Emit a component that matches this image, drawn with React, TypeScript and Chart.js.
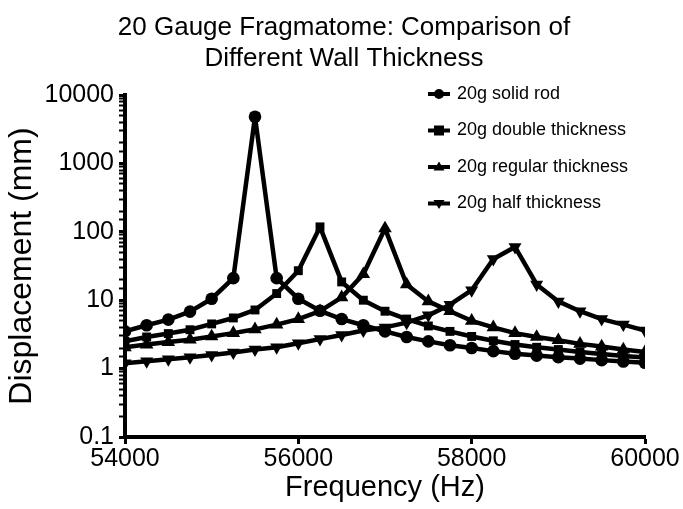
import React, { useEffect, useRef } from "react";
import { Chart, registerables } from "chart.js";

Chart.register(...registerables);

const frequencies = [
  54000, 54250, 54500, 54750, 55000, 55250, 55500, 55750, 56000, 56250, 56500, 56750,
  57000, 57250, 57500, 57750, 58000, 58250, 58500, 58750, 59000, 59250, 59500, 59750, 60000,
];

const solidRod = [
  3.5, 4.3, 5.2, 6.8, 10.5, 21, 4800, 21, 10.5, 7.0, 5.3, 4.3,
  3.5, 2.9, 2.5, 2.2, 2.0, 1.8, 1.65, 1.55, 1.47, 1.4, 1.33, 1.27, 1.22,
];

const doubleThickness = [
  2.5, 2.9, 3.25, 3.7, 4.5, 5.5, 7.2, 12.5, 27, 118, 18.5, 10,
  6.9, 5.3, 4.2, 3.5, 2.95, 2.55, 2.25, 2.05, 1.9, 1.75, 1.63, 1.53, 1.45,
];

const regularThickness = [
  2.05, 2.25, 2.45, 2.65, 2.95, 3.3, 3.75, 4.4, 5.3, 6.9, 11, 24,
  112, 17, 9.6, 6.9, 5.0, 4.0, 3.3, 2.9, 2.6, 2.3, 2.1, 1.9, 1.75,
];

const halfThickness = [
  1.2, 1.28, 1.37, 1.47, 1.58, 1.72, 1.9, 2.05, 2.35, 2.7, 3.1, 3.6,
  4.0, 4.7, 6.0, 8.6, 14, 40, 60, 17, 9.6, 6.9, 5.3, 4.4, 3.6,
];

const seriesNames = [
  "20g solid rod",
  "20g double thickness",
  "20g regular thickness",
  "20g half thickness",
];
const seriesValues = [solidRod, doubleThickness, regularThickness, halfThickness];
const seriesMarkers = ["circle", "rect", "triangle", "triangle"];
const seriesRotation = [0, 0, 0, 180];
const seriesRadius = [6.3, 6.3, 7.8, 7.5];

const xTicks = [54000, 56000, 58000, 60000];
const titleLines = ["20 Gauge Fragmatome: Comparison of", "Different Wall Thickness"];
const xTitle = "Frequency (Hz)";
const yTitle = "Displacement (mm)";

const FONT = "'Liberation Sans', Arial, Helvetica, sans-serif";

const W = 683;
const H = 509;
const AREA = { left: 125, right: 645, top: 95, bottom: 437 };

function isPow10(v: number) {
  const l = Math.log10(v);
  return Math.abs(l - Math.round(l)) < 1e-6;
}

function drawMarker(ctx: CanvasRenderingContext2D, style: string, x: number, y: number, r: number, rot: number) {
  ctx.beginPath();
  if (style === "circle") {
    ctx.arc(x, y, r, 0, Math.PI * 2);
  } else if (style === "rect") {
    ctx.rect(x - r, y - r, 2 * r, 2 * r);
  } else {
    const s = rot === 180 ? -1 : 1;
    ctx.moveTo(x, y - s * r * 1.1);
    ctx.lineTo(x + r * 1.1, y + s * r * 0.7);
    ctx.lineTo(x - r * 1.1, y + s * r * 0.7);
    ctx.closePath();
  }
  ctx.fill();
}

const titlePlugin = {
  id: "customTitle",
  afterDraw(chart: any) {
    const ctx = chart.ctx;
    ctx.save();
    ctx.fillStyle = "#000";
    ctx.font = `26px ${FONT}`;
    ctx.textAlign = "center";
    ctx.textBaseline = "middle";
    const cx = 344;
    ctx.fillText(titleLines[0], cx, 28);
    ctx.fillText(titleLines[1], cx, 59);
    ctx.restore();
  },
};

const legendPlugin = {
  id: "customLegend",
  afterDraw(chart: any) {
    const ctx = chart.ctx;
    ctx.save();
    const x0 = 428;
    const x1 = 450;
    const tx = 457;
    const y0 = 94;
    const dy = 36.5;
    chart.data.datasets.forEach((ds: any, i: number) => {
      const y = y0 + i * dy;
      ctx.strokeStyle = "#000";
      ctx.lineWidth = 4;
      ctx.beginPath();
      ctx.moveTo(x0, y);
      ctx.lineTo(x1, y);
      ctx.stroke();
      ctx.fillStyle = "#000";
      drawMarker(ctx, seriesMarkers[i], (x0 + x1) / 2, y, 5, seriesRotation[i]);
      ctx.font = `18px ${FONT}`;
      ctx.textAlign = "left";
      ctx.textBaseline = "middle";
      ctx.fillText(ds.label, tx, y);
    });
    ctx.restore();
  },
};

export default function App() {
  const canvasRef = useRef<HTMLCanvasElement | null>(null);

  useEffect(() => {
    document.body.style.margin = "0";
    const canvas = canvasRef.current;
    if (!canvas) return;
    const datasets = seriesNames.map((name, i) => ({
      label: name,
      data: frequencies.map((f, j) => ({ x: f, y: seriesValues[i][j] })),
      borderColor: "#000",
      backgroundColor: "#000",
      borderWidth: 4.5,
      borderJoinStyle: "round" as const,
      pointStyle: seriesMarkers[i],
      rotation: seriesRotation[i],
      pointRadius: seriesRadius[i],
      pointBorderWidth: 0,
      pointBackgroundColor: "#000",
      tension: 0,
      fill: false,
    }));
    const chart = new Chart(canvas, {
      type: "line",
      data: { datasets },
      plugins: [titlePlugin, legendPlugin],
      options: {
        animation: false,
        responsive: false,
        devicePixelRatio: 1,
        layout: {
          padding: { top: AREA.top, right: W - AREA.right, left: 0, bottom: 0 },
        },
        plugins: {
          legend: { display: false },
          title: { display: false },
          tooltip: { enabled: false },
        },
        scales: {
          x: {
            type: "linear",
            min: 54000,
            max: 60000,
            afterBuildTicks: (axis: any) => {
              axis.ticks = xTicks.map((v) => ({ value: v }));
            },
            afterFit: (axis: any) => {
              axis.height = H - AREA.bottom;
            },
            border: { display: true, color: "#000", width: 4 },
            grid: {
              display: true,
              drawOnChartArea: false,
              drawTicks: true,
              tickLength: 7,
              tickWidth: 3,
              tickColor: "#000",
            },
            ticks: {
              color: "#000",
              font: { family: FONT, size: 25 },
              padding: 0,
              maxRotation: 0,
              autoSkip: false,
              callback: (v: any) => String(v),
            },
            title: {
              display: true,
              text: xTitle,
              color: "#000",
              font: { family: FONT, size: 29 },
              padding: { top: 0, bottom: 4 },
            },
          },
          y: {
            type: "logarithmic",
            min: 0.1,
            max: 10000,
            afterFit: (axis: any) => {
              axis.width = AREA.left;
            },
            border: { display: true, color: "#000", width: 4 },
            grid: {
              display: true,
              drawOnChartArea: false,
              drawTicks: true,
              tickLength: 6,
              tickWidth: (c: any) => (c.tick && isPow10(c.tick.value) ? 3 : 2),
              tickColor: "#000",
            },
            ticks: {
              color: "#000",
              font: { family: FONT, size: 25 },
              padding: 5,
              autoSkip: false,
              callback: (v: any) => (isPow10(Number(v)) ? String(Number(Number(v).toPrecision(6))) : ""),
            },
            title: {
              display: true,
              text: yTitle,
              color: "#000",
              font: { family: FONT, size: 32 },
              padding: { top: 3, bottom: 0 },
            },
          },
        },
      },
    });
    return () => chart.destroy();
  }, []);

  return (
    <div style={{ position: "absolute", left: 0, top: 0, width: W, height: H }}>
      <canvas ref={canvasRef} width={W} height={H} style={{ width: W, height: H }} />
    </div>
  );
}
